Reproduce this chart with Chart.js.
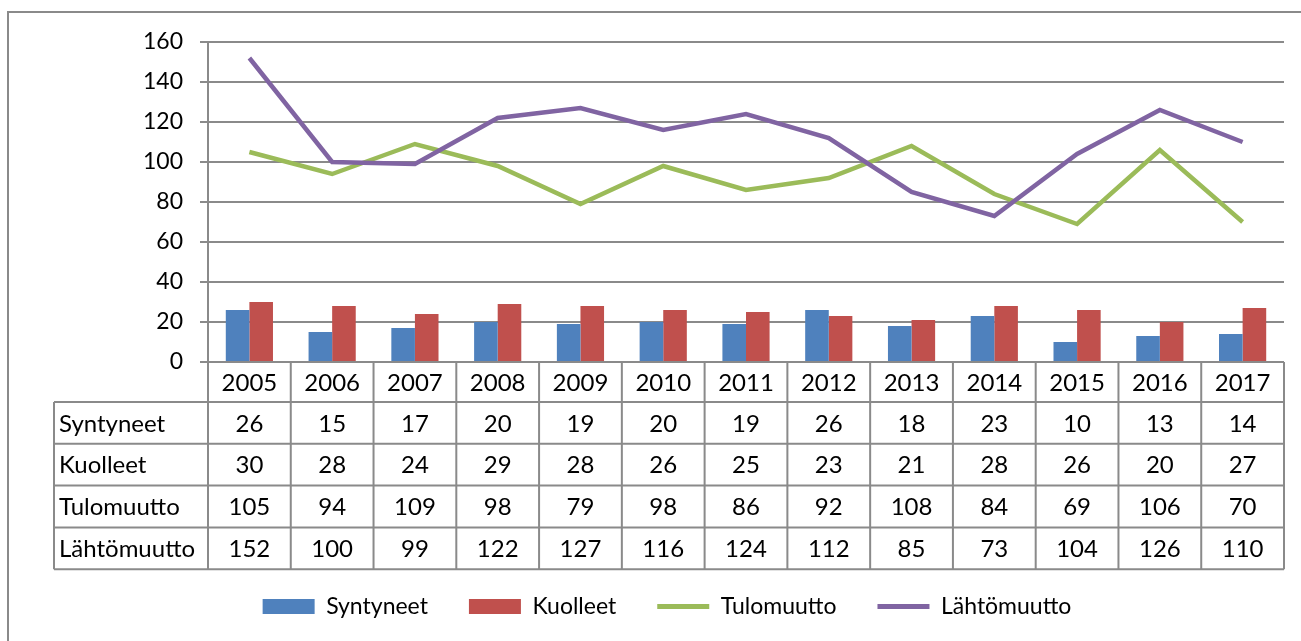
<!DOCTYPE html>
<html>
<head>
<meta charset="utf-8">
<script src="https://cdn.jsdelivr.net/npm/chart.js@4"></script>
<style>
  html, body { margin: 0; padding: 0; background: #fff; }
  #wrap { width: 1301px; height: 641px; }
</style>
</head>
<body>
<div id="wrap"><canvas id="vaestoChart"></canvas></div>
<script>
const vuodet = ["2005", "2006", "2007", "2008", "2009", "2010", "2011", "2012", "2013", "2014", "2015", "2016", "2017"];
const syntyneet = [26, 15, 17, 20, 19, 20, 19, 26, 18, 23, 10, 13, 14];
const kuolleet = [30, 28, 24, 29, 28, 26, 25, 23, 21, 28, 26, 20, 27];
const tulomuutto = [105, 94, 109, 98, 79, 98, 86, 92, 108, 84, 69, 106, 70];
const lahtomuutto = [152, 100, 99, 122, 127, 116, 124, 112, 85, 73, 104, 126, 110];
const yTicks = [0, 20, 40, 60, 80, 100, 120, 140, 160];

const fontti = "Lato, 'DejaVu Sans', sans-serif";
const harmaa = "#8a8a8a";

// taulukko kaavion alle + ulkoreunus
const taulukko = {
  id: "taulukko",
  beforeDraw(chart) {
    const c = chart.ctx;
    c.save();
    c.strokeStyle = harmaa;
    c.lineWidth = 2;
    c.beginPath();
    c.moveTo(8, chart.height);
    c.lineTo(8, 12);
    c.lineTo(chart.width, 12);
    c.stroke();
    c.restore();
  },
  afterDraw(chart) {
    const c = chart.ctx;
    const x = chart.scales.x;
    const area = chart.chartArea;
    const top = area.bottom;
    const headH = 40;
    const rowH = 41.8;
    const labelLeft = 54;
    const colW = (area.right - area.left) / vuodet.length;
    const rivit = chart.data.datasets.map(d => ({ nimi: d.label, arvot: d.data }));
    const bottom = top + headH + rowH * rivit.length;

    c.save();
    c.strokeStyle = harmaa;
    c.lineWidth = 2;
    c.beginPath();
    // vaakaviivat
    c.moveTo(area.left - 8, top);
    c.lineTo(area.right, top);
    for (let r = 0; r <= rivit.length; r++) {
      const y = top + headH + r * rowH;
      c.moveTo(labelLeft, y);
      c.lineTo(area.right, y);
    }
    // pystyviivat
    for (let i = 0; i <= vuodet.length; i++) {
      const xx = area.left + i * colW;
      c.moveTo(xx, top);
      c.lineTo(xx, bottom);
    }
    c.moveTo(labelLeft, top + headH);
    c.lineTo(labelLeft, bottom);
    c.stroke();

    c.fillStyle = "#000";
    c.font = "24px " + fontti;
    c.textBaseline = "middle";
    c.textAlign = "center";
    vuodet.forEach((v, i) => {
      c.fillText(v, x.getPixelForValue(i), top + headH / 2 + 1);
    });
    rivit.forEach((rivi, r) => {
      const y = top + headH + r * rowH + rowH / 2 + 1;
      c.textAlign = "left";
      c.fillText(rivi.nimi, labelLeft + 5, y);
      c.textAlign = "center";
      rivi.arvot.forEach((a, i) => {
        c.fillText(String(a), x.getPixelForValue(i), y);
      });
    });
    c.restore();
  },
};

const ctx = document.getElementById("vaestoChart");

new Chart(ctx, {
  type: "bar",
  data: {
    labels: vuodet,
    datasets: [
      {
        label: "Syntyneet",
        data: syntyneet,
        backgroundColor: "#4f81bd",
        order: 3,
      },
      {
        label: "Kuolleet",
        data: kuolleet,
        backgroundColor: "#c0504d",
        order: 4,
      },
      {
        type: "line",
        label: "Tulomuutto",
        data: tulomuutto,
        borderColor: "#9bbb59",
        backgroundColor: "#9bbb59",
        borderWidth: 4.5,
        tension: 0,
        pointRadius: 0,
        fill: false,
        order: 2,
      },
      {
        type: "line",
        label: "Lähtömuutto",
        data: lahtomuutto,
        borderColor: "#8064a2",
        backgroundColor: "#8064a2",
        borderWidth: 4.5,
        tension: 0,
        pointRadius: 0,
        fill: false,
        order: 1,
      },
    ],
  },
  options: {
    responsive: true,
    maintainAspectRatio: false,
    animation: false,
    categoryPercentage: 0.57,
    barPercentage: 1,
    layout: {
      padding: { top: 42, right: 17, left: 50, bottom: 13 },
    },
    plugins: {
      tooltip: { enabled: false },
      legend: {
        position: "bottom",
        labels: {
          color: "#000",
          font: { family: fontti, size: 23 },
          usePointStyle: true,
          pointStyleWidth: 52,
          boxHeight: 15,
          padding: 41,
          generateLabels(chart) {
            return chart.data.datasets.map((d, i) => ({
              text: d.label,
              fillStyle: d.backgroundColor,
              strokeStyle: d.borderColor || d.backgroundColor,
              lineWidth: d.type === "line" ? 5 : 0,
              pointStyle: d.type === "line" ? "line" : "rect",
              datasetIndex: i,
              hidden: false,
            }));
          },
        },
      },
    },
    scales: {
      x: {
        grid: { display: false },
        border: { display: false },
        ticks: { display: false },
        afterFit(scale) {
          scale.height = 192;
        },
      },
      y: {
        min: 0,
        max: 160,
        afterBuildTicks(scale) {
          scale.ticks = yTicks.map(v => ({ value: v }));
        },
        afterFit(scale) {
          scale.width = 158;
        },
        ticks: {
          color: "#000",
          padding: 17,
          font: { family: fontti, size: 23 },
        },
        grid: {
          color: harmaa,
          lineWidth: 2,
          tickLength: 8,
        },
        border: { color: harmaa, width: 2 },
      },
    },
  },
  plugins: [taulukko],
});
</script>
</body>
</html>
